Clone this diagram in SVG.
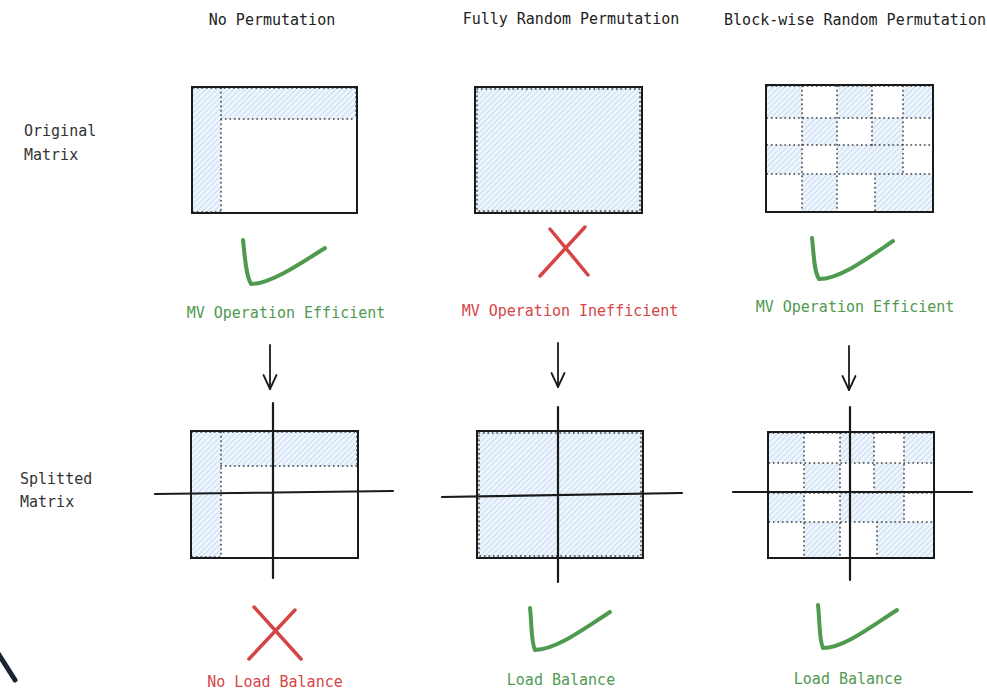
<svg xmlns="http://www.w3.org/2000/svg" width="987" height="691" viewBox="0 0 987 691">
<defs>
<pattern id="hatch" width="4" height="4" patternUnits="userSpaceOnUse" patternTransform="rotate(45)">
<rect width="4" height="4" fill="#eef5fc"/>
<line x1="0" y1="0" x2="0" y2="4" stroke="#abcdee" stroke-width="1.2"/>
</pattern>
<marker id="arr" viewBox="0 0 20 20" refX="18" refY="10" markerWidth="20" markerHeight="20" markerUnits="userSpaceOnUse" orient="auto">
<path d="M4 3.5 L18 10 L4 16.5" fill="none" stroke="#1a1a1a" stroke-width="1.8" stroke-linecap="round" stroke-linejoin="round"/>
</marker>
</defs>
<style>
text{font-family:"DejaVu Sans Mono","Liberation Mono",monospace;font-size:15px;}
.t{fill:#222;text-anchor:middle;}
.lbl{fill:#333;}
.g{fill:#4f9a4f;text-anchor:middle;}
.r{fill:#d64545;text-anchor:middle;}
.box{fill:none;stroke:#1a1a1a;stroke-width:2;}
.sh{fill:url(#hatch);stroke:none;}
.dot{fill:none;stroke:#333;stroke-width:1.5;stroke-dasharray:0.5 4;stroke-linecap:round;}
.split{stroke:#1a1a1a;stroke-width:2.2;stroke-linecap:round;fill:none;}
.chk{fill:none;stroke:#4f9a4f;stroke-width:4;stroke-linecap:round;stroke-linejoin:round;}
.x{fill:none;stroke:#d64545;stroke-width:3.5;stroke-linecap:round;}
.con{fill:none;stroke:#1a1a1a;stroke-width:1.8;stroke-linecap:round;}
</style>
<rect width="987" height="691" fill="#ffffff"/>

<g id="titles">
<text class="t" x="272" y="25">No Permutation</text>
<text class="t" x="571" y="24">Fully Random Permutation</text>
<text class="t" x="855" y="25">Block-wise Random Permutation</text>
</g>

<g id="row-labels">
<text class="lbl" x="24" y="136">Original</text>
<text class="lbl" x="24" y="160">Matrix</text>
<text class="lbl" x="20" y="484">Splitted</text>
<text class="lbl" x="20" y="507">Matrix</text>
</g>

<g id="orig-none">
<rect class="sh" x="192" y="87" width="29" height="126"/>
<rect class="sh" x="221" y="87" width="136" height="32"/>
<path class="dot" d="M221 88 V212 M221 119 H356 M193 88 H356 M356 88 V119 M193 212 H221"/>
<rect class="box" x="192" y="87" width="165" height="126"/>
</g>

<g id="orig-full">
<rect class="sh" x="475" y="87" width="167" height="126"/>
<rect class="dot" x="477" y="89" width="163" height="122"/>
<rect class="box" x="475" y="87" width="167" height="126"/>
</g>

<g id="orig-block">
<rect class="sh" x="766" y="85" width="36" height="33"/>
<rect class="sh" x="837" y="85" width="35" height="33"/>
<rect class="sh" x="903" y="85" width="30" height="33"/>
<rect class="sh" x="802" y="118" width="35" height="27"/>
<rect class="sh" x="872" y="118" width="31" height="27"/>
<rect class="sh" x="766" y="145" width="36" height="29"/>
<rect class="sh" x="837" y="145" width="66" height="29"/>
<rect class="sh" x="802" y="174" width="35" height="38"/>
<rect class="sh" x="875" y="174" width="58" height="38"/>
<path class="dot" d="M802 86 V211 M837 86 V211 M872 86 V145 M875 174 V211 M903 86 V174 M767 118 H932 M767 145 H932 M767 174 H932 M767 86 H932"/>
<rect class="box" x="766" y="85" width="167" height="127"/>
</g>

<g id="mark-top-none">
<path class="chk" d="M243 240 C245 258 246 276 251 284 C270 284 300 264 325 248"/>
</g>
<g id="mark-top-full">
<path class="x" d="M540 276 L585 227 M550 229 L588 275"/>
</g>
<g id="mark-top-block">
<path class="chk" d="M812 238 C814 256 814 272 819 279 C840 279 868 258 893 241"/>
</g>

<g id="status-top">
<text class="g" x="286" y="318">MV Operation Efficient</text>
<text class="r" x="570" y="316">MV Operation Inefficient</text>
<text class="g" x="855" y="312">MV Operation Efficient</text>
</g>

<g id="split-none">
<rect class="sh" x="191" y="431" width="30" height="127"/>
<rect class="sh" x="221" y="431" width="137" height="35"/>
<path class="dot" d="M221 432 V557 M221 466 H357 M192 432 H357 M357 432 V466 M192 557 H221"/>
<rect class="box" x="191" y="431" width="167" height="127"/>
<path class="split" d="M273 403 V578 M155 494 L393 491"/>
</g>

<g id="split-full">
<rect class="sh" x="477" y="431" width="166" height="127"/>
<rect class="dot" x="479" y="433" width="162" height="123"/>
<rect class="box" x="477" y="431" width="166" height="127"/>
<path class="split" d="M558 407 V582 M442 497 L682 493"/>
</g>

<g id="split-block">
<rect class="sh" x="768" y="432" width="36" height="31"/>
<rect class="sh" x="840" y="432" width="34" height="31"/>
<rect class="sh" x="904" y="432" width="30" height="31"/>
<rect class="sh" x="804" y="463" width="36" height="30"/>
<rect class="sh" x="874" y="463" width="30" height="30"/>
<rect class="sh" x="768" y="493" width="36" height="29"/>
<rect class="sh" x="840" y="493" width="64" height="29"/>
<rect class="sh" x="804" y="522" width="36" height="36"/>
<rect class="sh" x="877" y="522" width="57" height="36"/>
<path class="dot" d="M804 433 V557 M840 433 V557 M874 433 V493 M877 522 V557 M904 433 V522 M769 463 H933 M769 493 H933 M769 522 H933 M769 433 H933"/>
<rect class="box" x="768" y="432" width="166" height="126"/>
<path class="split" d="M850 407 V580 M733 492 L972 492"/>
</g>

<g id="mark-bot-none">
<path class="x" d="M249 659 L295 610 M254 607 L301 659"/>
</g>
<g id="mark-bot-full">
<path class="chk" d="M530 608 C532 626 531 642 535 650 C556 650 585 628 610 612"/>
</g>
<g id="mark-bot-block">
<path class="chk" d="M818 605 C820 623 819 640 823 648 C844 648 872 626 897 610"/>
</g>

<g id="status-bot">
<text class="r" x="275" y="687">No Load Balance</text>
<text class="g" x="561" y="685">Load Balance</text>
<text class="g" x="848" y="684">Load Balance</text>
</g>

<g id="connectors">
<path class="con" d="M270 345 L270 389" marker-end="url(#arr)"/>
<path class="con" d="M558 343 L558 387" marker-end="url(#arr)"/>
<path class="con" d="M849 346 L849 390" marker-end="url(#arr)"/>
</g>

<g id="corner-stroke">
<path d="M-4 650 L15 680" fill="none" stroke="#1e2235" stroke-width="5" stroke-linecap="round"/>
</g>
</svg>
